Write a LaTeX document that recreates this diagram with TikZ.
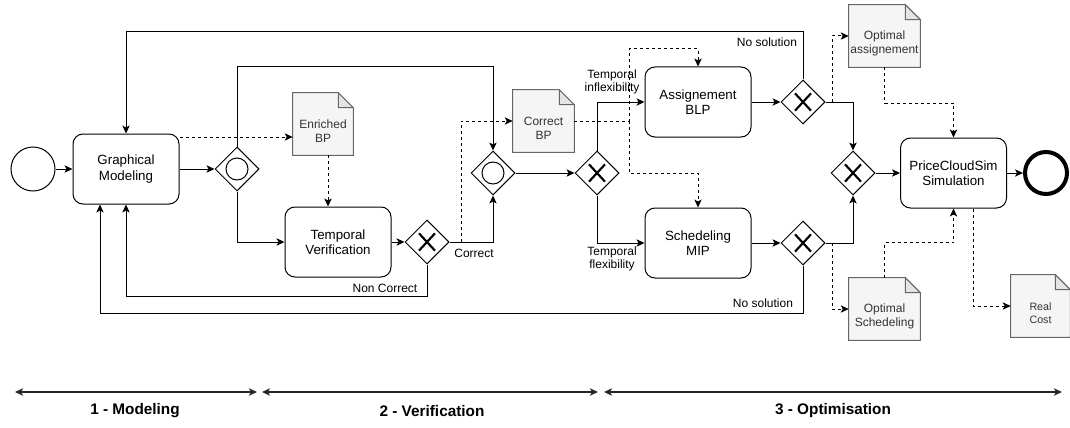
\documentclass[tikz,border=0pt]{standalone}
\usepackage{fontspec}
\setmainfont{Liberation Sans}
\usetikzlibrary{shapes.geometric,arrows.meta,backgrounds,calc}
\definecolor{docfill}{HTML}{F5F5F5}
\definecolor{docline}{HTML}{666666}
\definecolor{doctext}{HTML}{333333}
\definecolor{foldfill}{HTML}{E4E4E4}
\tikzset{
 task/.style={draw, rounded corners=7.5pt, minimum width=79.5pt, minimum height=52.5pt, align=center, font=\fontsize{10}{11.5}\selectfont, line width=0.75pt, inner sep=0pt},
 gw/.style={draw, diamond, minimum width=33pt, minimum height=33pt, inner sep=0pt, line width=0.75pt},
 gwx/.style={gw, path picture={\draw[line width=1.6pt] ([shift={(-6pt,-6.5pt)}]path picture bounding box.center) -- ([shift={(6pt,6.5pt)}]path picture bounding box.center) ([shift={(-6pt,6.5pt)}]path picture bounding box.center) -- ([shift={(6pt,-6.5pt)}]path picture bounding box.center);}},
 gwo/.style={gw, path picture={\draw[line width=0.75pt] (path picture bounding box.center) circle (8.25pt);}},
 doc/.style={inner sep=0pt, minimum height=46.5pt},
 doclbl/.style={align=center, text=doctext, font=\fontsize{9}{10.5}\selectfont, inner sep=0pt, yshift=-5.25pt},
 flow/.style={->, line width=0.75pt},
 data/.style={->, dash pattern=on 2.25pt off 2.25pt, line width=0.75pt},
 lbl/.style={font=\fontsize{9}{9.75}\selectfont, align=center, inner sep=0pt},
 phase/.style={font=\bfseries\fontsize{11.5}{13}\selectfont, inner sep=0pt},
 span/.style={<->, line width=0.9pt, draw=black!85}
}
\newcommand\docshape[1]{%
 \begin{scope}[on background layer]
 \filldraw[fill=docfill, draw=docline, line width=0.75pt] (#1.north west) -- ([xshift=-11.25pt]#1.north east) -- ([yshift=-11.25pt]#1.north east) -- (#1.south east) -- (#1.south west) -- cycle;
 \filldraw[fill=foldfill, draw=docline, line width=0.75pt] ([xshift=-11.25pt]#1.north east) -- ([xshift=-11.25pt,yshift=-11.25pt]#1.north east) -- ([yshift=-11.25pt]#1.north east) -- cycle;
 \end{scope}}
\begin{document}
\begin{tikzpicture}[x=0.75pt,y=-0.75pt, >={Stealth[length=6pt,width=5.5pt,inset=1.5pt]}]
\useasboundingbox (0,0) rectangle (1070,428);

% nodes
\node[draw, circle, minimum size=33pt, inner sep=0pt, line width=0.75pt] (start) at (33,169) {};
\node[task] (gm) at (126,169) {Graphical\\Modeling};
\node[gwo] (g1) at (237,169) {};
\node[doc, minimum width=45pt, label={[doclbl]center:Enriched\\BP}] (ebp) at (323,124) {};
\docshape{ebp}
\node[task] (tv) at (338,242) {Temporal\\Verification};
\node[gwx] (g2) at (427,242) {};
\node[gwo] (g3) at (493,173) {};
\node[doc, minimum width=45.75pt, label={[doclbl]center:Correct\\BP}] (cbp) at (543.5,121) {};
\docshape{cbp}
\node[gwx] (g4) at (597,173) {};
\node[task] (blp) at (698,102) {Assignement\\BLP};
\node[task] (mip) at (698,243) {Schedeling\\MIP};
\node[gwx] (g5) at (803,102) {};
\node[gwx] (g6) at (803,243) {};
\node[gwx] (g7) at (853,173) {};
\node[task] (pcs) at (953.5,173) {PriceCloudSim\\Simulation};
\node[draw, circle, minimum size=31.5pt, inner sep=0pt, line width=3pt] (end) at (1046,173) {};
\node[doc, minimum width=53.25pt, label={[doclbl]center:Optimal\\assignement}] (oa) at (884.5,36) {};
\docshape{oa}
\node[doc, minimum width=53.25pt, label={[doclbl]center:Optimal\\Schedeling}] (os) at (884.5,309) {};
\docshape{os}
\node[doc, minimum width=44.25pt, label={[doclbl, font=\fontsize{8}{9.5}\selectfont]center:Real\\Cost}] (rc) at (1040.5,306) {};
\docshape{rc}

% sequence flows
\draw[flow] (start) -- (gm);
\draw[flow] (gm) -- (g1);
\draw[data] (gm.east |- 0,137) -- (ebp.west |- 0,137);
\draw[data] (ebp.south -| 328,0) -- (tv.north -| 328,0);
\draw[flow] (g1.north) |- (g3.north |- 0,67) -- (g3.north);
\draw[flow] (g1.south) |- (tv.west);
\draw[flow] (tv) -- (g2);
\draw[flow] (g2.south) |- (gm.south |- 0,296) -- (gm.south);
\node[lbl] (lnc) at (385,288) {Non Correct};
\draw[flow] (g2.east) -| (g3.south);
\node[lbl] (lc) at (474,253) {Correct};
\coordinate (c1) at (461,242);
\draw[data] (c1) |- (cbp.west);
\draw[flow] (g3) -- (g4);
\draw[flow] (g4.north) |- (blp.west);
\draw[flow] (g4.south) |- (mip.west);
\node[lbl] (lti) at (612,82) {Temporal\\inflexibility};
\node[lbl] (ltf) at (612,259) {Temporal\\flexibility};
\coordinate (c2) at (629,121);
\draw[data] (cbp.east) -- (c2) |- (blp.north |- 0,49) -- (blp.north);
\draw[data] (c2) |- (mip.north |- 0,173) -- (mip.north);
\draw[flow] (blp) -- (g5);
\draw[flow] (mip) -- (g6);
\draw[flow] (g5.north) |- (gm.north |- 0,32) -- (gm.north);
\node[lbl] (lns1) at (767,42) {No solution};
\coordinate (b1) at (100,313);
\draw[flow] (g6.south) |- (b1) -- (gm.south -| b1);
\node[lbl] (lns2) at (763,303) {No solution};
\draw[flow] (g5.east) -| (g7.north);
\draw[flow] (g6.east) -| (g7.south);
\draw[flow] (g7) -- (pcs);
\draw[flow] (pcs) -- (end);
\coordinate (c3) at (832,102);
\draw[data] (c3) |- (oa.west);
\coordinate (c4) at (832,243);
\draw[data] (c4) |- (os.west);
\draw[data] (oa.south) -- ++(0,36) -| (pcs.north);
\draw[data] (os.north) -- ++(0,-35) -| (pcs.south);
\draw[data] (pcs.south -| 973,0) |- (rc.west);

% phases
\coordinate (p1a) at (15,392); \coordinate (p1b) at (257,392);
\coordinate (p2a) at (262,392); \coordinate (p2b) at (598,392);
\coordinate (p3a) at (604,392); \coordinate (p3b) at (1062,392);
\draw[span] (p1a) -- (p1b);
\draw[span] (p2a) -- (p2b);
\draw[span] (p3a) -- (p3b);
\node[phase] (ph1) at (135,411) {1 - Modeling};
\node[phase] (ph2) at (432,411) {2 - Verification};
\node[phase] (ph3) at (833,411) {3 - Optimisation};
\end{tikzpicture}
\end{document}
